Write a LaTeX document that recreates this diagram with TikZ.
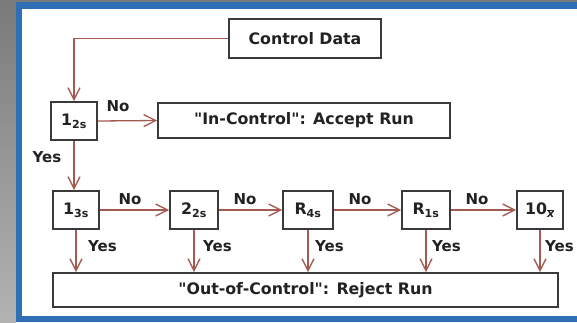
\documentclass[tikz,border=0pt]{standalone}
\usepackage{fontspec}
\setmainfont{DejaVu Sans}
\usetikzlibrary{arrows.meta}
\definecolor{framebl}{HTML}{2F6FB5}
\definecolor{flow}{HTML}{A35A52}
\definecolor{boxln}{HTML}{3A3A3A}
\definecolor{ink}{HTML}{222222}
\newcommand{\xbar}{$\overline{\hbox{\itshape x}}$}
% straight double quote, set as a glyph so no text mapping curls it
\newcommand{\dq}{\XeTeXglyph\XeTeXcharglyph"22\relax}

\begin{document}
\begin{tikzpicture}[x=1pt,y=-1pt,
  box/.style={draw=boxln,line width=1.8pt,fill=white,inner sep=0pt,
    font=\bfseries\fontsize{15.8}{18}\selectfont,text=ink},
  flowline/.style={draw=flow,line width=1.3pt,
    -{Straight Barb[length=12pt,width=12pt,line width=1.3pt]}},
  lbl/.style={font=\bfseries\fontsize{15}{17}\selectfont,text=ink,inner sep=0pt}]
\useasboundingbox (0,0) rectangle (577,322);

% frame: grey strip, blue border, white panel
\shade[top color=black!52,bottom color=black!30] (0,0) rectangle (16,322);
\fill[black!52] (16,0) rectangle (577,2);
\fill[framebl] (16,2) rectangle (577,322);
\fill[white] (22,9) rectangle (577,316);

% decision and result boxes
\node[box,minimum width=152pt,minimum height=39pt] (cd) at (305,38.5) {Control Data};
\node[box,minimum width=46pt,minimum height=38pt] (c12) at (74,121) {1\textsubscript{2s}};
\node[box,minimum width=292pt,minimum height=35pt] (acc) at (304,120.5) {\dq In-Control\dq: Accept Run};
\node[box,minimum width=46pt,minimum height=38pt] (c13) at (76,210) {1\textsubscript{3s}};
\node[box,minimum width=48pt,minimum height=38pt] (c22) at (194,210) {2\textsubscript{2s}};
\node[box,minimum width=50pt,minimum height=38pt] (r4) at (308,210) {R\textsubscript{4s}};
\node[box,minimum width=48pt,minimum height=38pt] (r1) at (426,210) {R\textsubscript{1s}};
\node[box,minimum width=46pt,minimum height=38pt] (x10) at (540,210) {10\textsubscript{\xbar}};
\node[box,minimum width=505pt,minimum height=34pt] (rej) at (305.5,290) {\dq Out-of-Control\dq: Reject Run};

% control flow
\draw[flowline] (cd.west) -| (c12.north);
\draw[flowline] (c12.east) -- (acc.west);
\draw[flowline] (c12.south) -- (c12.south |- c13.north);
\draw[flowline] (c13.east) -- (c22.west);
\draw[flowline] (c22.east) -- (r4.west);
\draw[flowline] (r4.east) -- (r1.west);
\draw[flowline] (r1.east) -- (x10.west);
\foreach \b in {c13,c22,r4,r1,x10}
  \draw[flowline] (\b.south) -- (\b.south |- rej.north);

% branch labels
\node[lbl] (n0) at (118,106) {No};
\node[lbl] (y0) at (47,157) {Yes};
\node[lbl] (n1) at (130,199) {No};
\node[lbl] (n2) at (245,199) {No};
\node[lbl] (n3) at (360,199) {No};
\node[lbl] (n4) at (477,199) {No};
\node[lbl,anchor=west] (y1) at (88,246) {Yes};
\node[lbl,anchor=west] (y2) at (203,246) {Yes};
\node[lbl,anchor=west] (y3) at (315,246) {Yes};
\node[lbl,anchor=west] (y4) at (432,246) {Yes};
\node[lbl,anchor=west] (y5) at (545,246) {Yes};
\end{tikzpicture}
\end{document}
